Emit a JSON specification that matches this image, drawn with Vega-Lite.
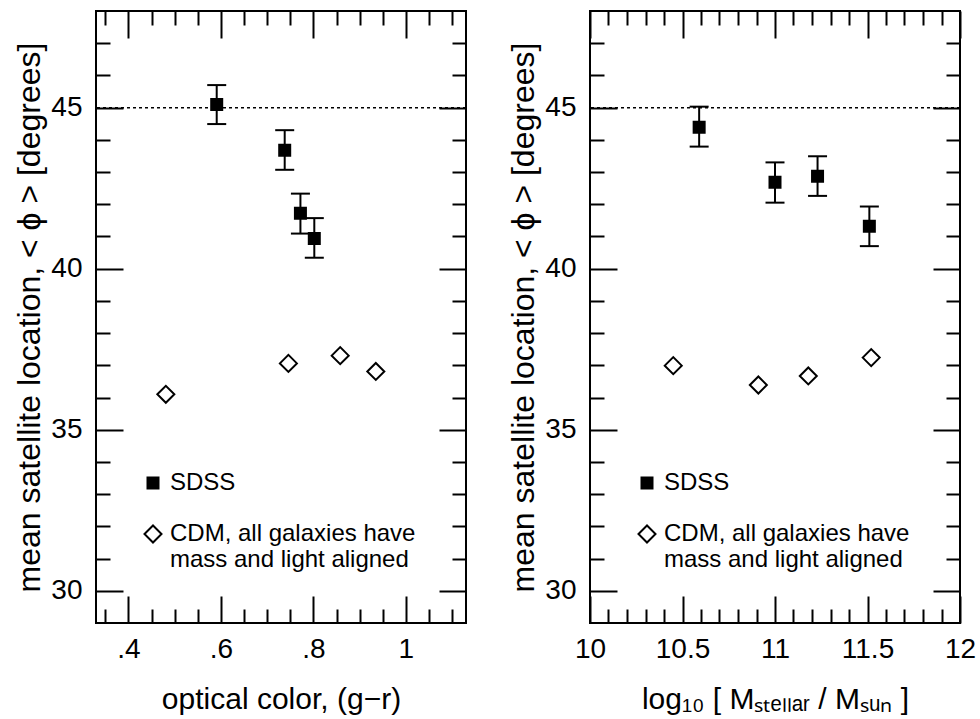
{
  "$schema": "https://vega.github.io/schema/vega-lite/v6.json",
  "padding": {"left": 12, "top": 9, "right": 0, "bottom": 0},
  "spacing": 38,
  "resolve": {
    "scale": {"shape": "independent", "fill": "independent", "size": "independent"},
    "legend": {"shape": "independent", "fill": "independent", "size": "independent"}
  },
  "config": {
    "view": {"stroke": "black", "strokeWidth": 2},
    "font": "Liberation Sans",
    "axis": {"grid": false, "domain": false, "tickColor": "black", "tickWidth": 2, "labelColor": "black", "labelFont": "Liberation Sans", "labelFontSize": 28, "labelFlush": false, "labelOverlap": false, "titleColor": "black", "titleFont": "Liberation Sans", "titleFontSize": 30, "titleFontWeight": "normal"},
    "legend": {"labelFont": "Liberation Sans", "labelFontSize": 24, "labelColor": "black", "labelLimit": 500}
  },
  "datasets": {
    "left": [
      {"gr": 0.591, "phi": 45.10, "lo": 44.49, "hi": 45.70, "series": "SDSS"},
      {"gr": 0.738, "phi": 43.68, "lo": 43.07, "hi": 44.30, "series": "SDSS"},
      {"gr": 0.772, "phi": 41.72, "lo": 41.09, "hi": 42.33, "series": "SDSS"},
      {"gr": 0.802, "phi": 40.94, "lo": 40.34, "hi": 41.57, "series": "SDSS"},
      {"gr": 0.481, "phi": 36.10, "series": "CDM"},
      {"gr": 0.746, "phi": 37.06, "series": "CDM"},
      {"gr": 0.858, "phi": 37.30, "series": "CDM"},
      {"gr": 0.935, "phi": 36.81, "series": "CDM"}
    ],
    "right": [
      {"logM": 10.59, "phi": 44.39, "lo": 43.79, "hi": 45.03, "series": "SDSS"},
      {"logM": 11.00, "phi": 42.68, "lo": 42.05, "hi": 43.30, "series": "SDSS"},
      {"logM": 11.23, "phi": 42.87, "lo": 42.26, "hi": 43.49, "series": "SDSS"},
      {"logM": 11.51, "phi": 41.32, "lo": 40.70, "hi": 41.93, "series": "SDSS"},
      {"logM": 10.45, "phi": 36.99, "series": "CDM"},
      {"logM": 10.91, "phi": 36.39, "series": "CDM"},
      {"logM": 11.18, "phi": 36.67, "series": "CDM"},
      {"logM": 11.52, "phi": 37.24, "series": "CDM"}
    ],
    "ref": [{"level": 45}]
  },
  "hconcat": [
    {
      "width": 370, "height": 612,
      "data": {"name": "left"},
      "resolve": {"axis": {"x": "independent", "y": "independent"}},
      "layer": [
        {
          "data": {"name": "ref"},
          "mark": {"type": "rule", "color": "black", "strokeWidth": 1.5, "strokeDash": [3, 3]},
          "encoding": {"y": {"field": "level", "type": "quantitative", "scale": {"domain": [29, 48]}, "axis": null}}
        },
        {
          "transform": [{"filter": "datum.series === 'SDSS'"}],
          "mark": {"type": "rule", "color": "black", "strokeWidth": 2},
          "encoding": {
            "x": {"field": "gr", "type": "quantitative", "scale": {"domain": [0.33, 1.13], "nice": false, "zero": false},
              "axis": {"orient": "top", "values": [0.35,0.4,0.45,0.5,0.55,0.6,0.65,0.7,0.75,0.8,0.85,0.9,0.95,1,1.05,1.1], "labels": false, "title": null,
                "tickSize": {"condition": {"test": "abs(datum.value*5 - round(datum.value*5)) < 0.001", "value": -27}, "value": -14}}},
            "y": {"field": "lo", "type": "quantitative", "scale": {"domain": [29, 48], "nice": false, "zero": false},
              "axis": {"orient": "right", "values": [30,31,32,33,34,35,36,37,38,39,40,41,42,43,44,45,46,47], "labels": false, "title": null,
                "tickSize": {"condition": {"test": "datum.value % 5 === 0", "value": -27}, "value": -14}}},
            "y2": {"field": "hi"}
          }
        },
        {
          "transform": [{"filter": "datum.series === 'SDSS'"}],
          "mark": {"type": "tick", "orient": "horizontal", "color": "black", "size": 19, "thickness": 2, "opacity": 1},
          "encoding": {"x": {"field": "gr", "type": "quantitative", "axis": null}, "y": {"field": "lo", "type": "quantitative", "axis": null}}
        },
        {
          "transform": [{"filter": "datum.series === 'SDSS'"}],
          "mark": {"type": "tick", "orient": "horizontal", "color": "black", "size": 19, "thickness": 2, "opacity": 1},
          "encoding": {"x": {"field": "gr", "type": "quantitative", "axis": null}, "y": {"field": "hi", "type": "quantitative", "axis": null}}
        },
        {
          "mark": {"type": "point", "stroke": "black", "strokeWidth": 2, "opacity": 1, "fillOpacity": 1},
          "encoding": {
            "x": {"field": "gr", "type": "quantitative",
              "axis": {"orient": "bottom", "values": [0.35,0.4,0.45,0.5,0.55,0.6,0.65,0.7,0.75,0.8,0.85,0.9,0.95,1,1.05,1.1],
                "tickSize": {"condition": {"test": "abs(datum.value*5 - round(datum.value*5)) < 0.001", "value": -27}, "value": -14},
                "labelExpr": "abs(datum.value*5 - round(datum.value*5)) > 0.001 ? '' : (datum.value > 0.99 ? '1' : '.' + format(datum.value*10, '.0f'))",
                "labelPadding": 39, "title": "optical color, (g−r)", "titlePadding": 8}},
            "y": {"field": "phi", "type": "quantitative",
              "axis": {"orient": "left", "values": [30,31,32,33,34,35,36,37,38,39,40,41,42,43,44,45,46,47],
                "tickSize": {"condition": {"test": "datum.value % 5 === 0", "value": -27}, "value": -14},
                "labelExpr": "datum.value % 5 === 0 ? datum.label : ''",
                "labelPadding": 41, "title": "mean satellite location, < ϕ > [degrees]", "titleFontSize": 32, "titlePadding": 4}},
            "shape": {"field": "series", "type": "nominal", "scale": {"domain": ["SDSS", "CDM"], "range": ["square", "diamond"]},
              "legend": {"orient": "none", "legendX": 45, "legendY": 460, "title": null, "rowPadding": 26, "labelOffset": 5, "symbolStrokeColor": "black", "symbolStrokeWidth": 2,
                "labelExpr": "datum.label == 'CDM' ? ['CDM, all galaxies have', 'mass and light aligned'] : datum.label"}},
            "fill": {"field": "series", "type": "nominal", "scale": {"domain": ["SDSS", "CDM"], "range": ["black", "white"]}},
            "size": {"field": "series", "type": "nominal", "scale": {"domain": ["SDSS", "CDM"], "range": [121, 289]}}
          }
        }
      ]
    },
    {
      "width": 370, "height": 612,
      "data": {"name": "right"},
      "resolve": {"axis": {"x": "independent", "y": "independent"}},
      "layer": [
        {
          "data": {"name": "ref"},
          "mark": {"type": "rule", "color": "black", "strokeWidth": 1.5, "strokeDash": [3, 3]},
          "encoding": {"y": {"field": "level", "type": "quantitative", "scale": {"domain": [29, 48]}, "axis": null}}
        },
        {
          "transform": [{"filter": "datum.series === 'SDSS'"}],
          "mark": {"type": "rule", "color": "black", "strokeWidth": 2},
          "encoding": {
            "x": {"field": "logM", "type": "quantitative", "scale": {"domain": [10, 12], "nice": false, "zero": false},
              "axis": {"orient": "top", "values": [10,10.1,10.2,10.3,10.4,10.5,10.6,10.7,10.8,10.9,11,11.1,11.2,11.3,11.4,11.5,11.6,11.7,11.8,11.9,12], "labels": false, "title": null,
                "tickSize": {"condition": {"test": "abs(datum.value*2 - round(datum.value*2)) < 0.001", "value": -27}, "value": -14}}},
            "y": {"field": "lo", "type": "quantitative", "scale": {"domain": [29, 48], "nice": false, "zero": false},
              "axis": {"orient": "right", "values": [30,31,32,33,34,35,36,37,38,39,40,41,42,43,44,45,46,47], "labels": false, "title": null,
                "tickSize": {"condition": {"test": "datum.value % 5 === 0", "value": -27}, "value": -14}}},
            "y2": {"field": "hi"}
          }
        },
        {
          "transform": [{"filter": "datum.series === 'SDSS'"}],
          "mark": {"type": "tick", "orient": "horizontal", "color": "black", "size": 19, "thickness": 2, "opacity": 1},
          "encoding": {"x": {"field": "logM", "type": "quantitative", "axis": null}, "y": {"field": "lo", "type": "quantitative", "axis": null}}
        },
        {
          "transform": [{"filter": "datum.series === 'SDSS'"}],
          "mark": {"type": "tick", "orient": "horizontal", "color": "black", "size": 19, "thickness": 2, "opacity": 1},
          "encoding": {"x": {"field": "logM", "type": "quantitative", "axis": null}, "y": {"field": "hi", "type": "quantitative", "axis": null}}
        },
        {
          "mark": {"type": "point", "stroke": "black", "strokeWidth": 2, "opacity": 1, "fillOpacity": 1},
          "encoding": {
            "x": {"field": "logM", "type": "quantitative",
              "axis": {"orient": "bottom", "values": [10,10.1,10.2,10.3,10.4,10.5,10.6,10.7,10.8,10.9,11,11.1,11.2,11.3,11.4,11.5,11.6,11.7,11.8,11.9,12],
                "tickSize": {"condition": {"test": "abs(datum.value*2 - round(datum.value*2)) < 0.001", "value": -27}, "value": -14},
                "labelExpr": "abs(datum.value*2 - round(datum.value*2)) > 0.001 ? '' : format(datum.value, '.3~f')",
                "labelPadding": 39, "title": "log₁₀ [ Mₛₜₑₗₗₐᵣ / Mₛᵤₙ ]", "titlePadding": 8}},
            "y": {"field": "phi", "type": "quantitative",
              "axis": {"orient": "left", "values": [30,31,32,33,34,35,36,37,38,39,40,41,42,43,44,45,46,47],
                "tickSize": {"condition": {"test": "datum.value % 5 === 0", "value": -27}, "value": -14},
                "labelExpr": "datum.value % 5 === 0 ? datum.label : ''",
                "labelPadding": 41, "title": "mean satellite location, < ϕ > [degrees]", "titleFontSize": 32, "titlePadding": 4}},
            "shape": {"field": "series", "type": "nominal", "scale": {"domain": ["SDSS", "CDM"], "range": ["square", "diamond"]},
              "legend": {"orient": "none", "legendX": 45, "legendY": 460, "title": null, "rowPadding": 26, "labelOffset": 5, "symbolStrokeColor": "black", "symbolStrokeWidth": 2,
                "labelExpr": "datum.label == 'CDM' ? ['CDM, all galaxies have', 'mass and light aligned'] : datum.label"}},
            "fill": {"field": "series", "type": "nominal", "scale": {"domain": ["SDSS", "CDM"], "range": ["black", "white"]}},
            "size": {"field": "series", "type": "nominal", "scale": {"domain": ["SDSS", "CDM"], "range": [121, 289]}}
          }
        }
      ]
    }
  ]
}
